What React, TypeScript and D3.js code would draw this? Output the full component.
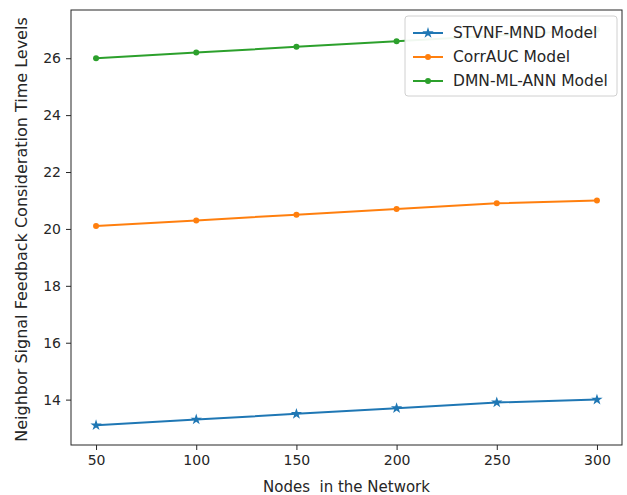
import { useEffect, useRef } from 'react';
import * as d3 from 'd3';

const nodes = [50, 100, 150, 200, 250, 300];
const stvnf = [13.1, 13.3, 13.5, 13.7, 13.9, 14.0];
const corrAuc = [20.1, 20.3, 20.5, 20.7, 20.9, 21.0];
const dmn = [26.0, 26.2, 26.4, 26.6, 26.8, 27.0];
const yTicks = [14, 16, 18, 20, 22, 24, 26];

const series = [
  { name: 'STVNF-MND Model', values: stvnf, color: '#1f77b4', marker: 'star' },
  { name: 'CorrAUC Model', values: corrAuc, color: '#ff7f0e', marker: 'dot' },
  { name: 'DMN-ML-ANN Model', values: dmn, color: '#2ca02c', marker: 'dot' },
];

const App = () => {
  const svgRef = useRef<SVGSVGElement>(null);

  useEffect(() => {
    const width = 627;
    const height = 495;
    const margin = { top: 10, right: 5, bottom: 50, left: 71 };
    const font = 'DejaVu Sans, sans-serif';

    const svg = d3.select(svgRef.current);
    svg.selectAll('*').remove();
    svg.attr('width', width).attr('height', height);

    const x = d3.scaleLinear()
      .domain([37.5, 312.5])
      .range([margin.left, width - margin.right]);

    const y = d3.scaleLinear()
      .domain([12.405, 27.695])
      .range([height - margin.bottom, margin.top]);

    svg.append('rect')
      .attr('width', width).attr('height', height).attr('fill', '#fff');

    // axes
    const xAxis = svg.append('g')
      .attr('transform', `translate(0,${height - margin.bottom})`)
      .call(d3.axisBottom(x).tickValues(nodes).tickSize(5).tickPadding(5).tickSizeOuter(0));
    const yAxis = svg.append('g')
      .attr('transform', `translate(${margin.left},0)`)
      .call(d3.axisLeft(y).tickValues(yTicks).tickSize(5).tickPadding(5).tickSizeOuter(0));

    [xAxis, yAxis].forEach(g => {
      g.select('.domain').remove();
      g.selectAll('text').style('font-family', font).style('font-size', '14px').attr('fill', '#262626');
      g.selectAll('line').attr('stroke', '#262626');
    });

    // frame
    svg.append('rect')
      .attr('x', margin.left).attr('y', margin.top)
      .attr('width', width - margin.left - margin.right)
      .attr('height', height - margin.top - margin.bottom)
      .attr('fill', 'none').attr('stroke', '#262626').attr('stroke-width', 1);

    const line = d3.line<number>()
      .x((_, i) => x(nodes[i]))
      .y(d => y(d));

    const star = d3.symbol().type(d3.symbolStar).size(40);

    series.forEach(s => {
      svg.append('path')
        .datum(s.values)
        .attr('fill', 'none')
        .attr('stroke', s.color)
        .attr('stroke-width', 2)
        .attr('d', line);

      if (s.marker === 'star') {
        svg.selectAll(null).data(s.values).enter().append('path')
          .attr('d', star)
          .attr('transform', (d, i) => `translate(${x(nodes[i])},${y(d)})`)
          .attr('fill', s.color);
      } else {
        svg.selectAll(null).data(s.values).enter().append('circle')
          .attr('cx', (_, i) => x(nodes[i]))
          .attr('cy', d => y(d))
          .attr('r', 3)
          .attr('fill', s.color);
      }
    });

    // legend
    const lg = svg.append('g').attr('transform', 'translate(405,16)');
    lg.append('rect')
      .attr('width', 212).attr('height', 80).attr('rx', 3)
      .attr('fill', 'rgba(255,255,255,0.93)').attr('stroke', '#d0d0d0');

    series.forEach((s, i) => {
      const cy = 17 + i * 24;
      lg.append('line')
        .attr('x1', 8).attr('x2', 38).attr('y1', cy).attr('y2', cy)
        .attr('stroke', s.color).attr('stroke-width', 2);
      if (s.marker === 'star') {
        lg.append('path').attr('d', star).attr('transform', `translate(23,${cy})`).attr('fill', s.color);
      } else {
        lg.append('circle').attr('cx', 23).attr('cy', cy).attr('r', 3).attr('fill', s.color);
      }
      lg.append('text')
        .attr('x', 48).attr('y', cy).attr('dy', '0.35em')
        .style('font-family', font).style('font-size', '15.5px').attr('fill', '#262626')
        .text(s.name);
    });

    // axis labels
    svg.append('text')
      .attr('x', (margin.left + width - margin.right) / 2)
      .attr('y', 492)
      .attr('text-anchor', 'middle')
      .style('font-family', font).style('font-size', '15px').style('white-space', 'pre')
      .attr('fill', '#262626')
      .text('Nodes  in the Network');

    svg.append('text')
      .attr('transform', `translate(27,${(margin.top + height - margin.bottom) / 2 + 2}) rotate(-90)`)
      .attr('text-anchor', 'middle')
      .style('font-family', font).style('font-size', '16px').attr('fill', '#262626')
      .text('Neighbor Signal Feedback Consideration Time Levels');
  }, []);

  return <svg ref={svgRef} style={{ position: 'absolute', left: 0, top: 0 }}></svg>;
};

export default App;
